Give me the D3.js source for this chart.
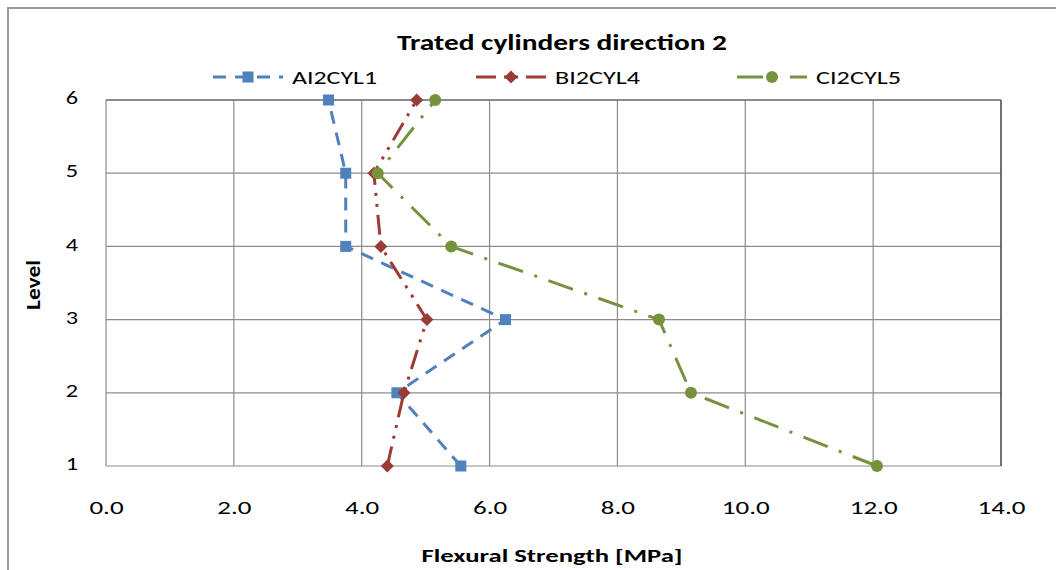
<!DOCTYPE html>
<html><head><meta charset="utf-8">
<script src="https://cdn.jsdelivr.net/npm/d3@7"></script>
<style>body{margin:0;background:#fff}svg{display:block}text{font-family:Carlito,Calibri,Lato,sans-serif;fill:#000}</style>
</head><body>
<svg id="c" width="1056" height="570"></svg>
<script>
const levels = [1, 2, 3, 4, 5, 6];
const seriesNames = ["AI2CYL1", "BI2CYL4", "CI2CYL5"];
const ai2cyl1 = [5.55, 4.55, 6.25, 3.75, 3.75, 3.48];
const bi2cyl4 = [4.40, 4.66, 5.02, 4.30, 4.19, 4.86];
const ci2cyl5 = [12.06, 9.15, 8.65, 5.40, 4.25, 5.15];
const xTicks = [0, 2, 4, 6, 8, 10, 12, 14];
const yTicks = [1, 2, 3, 4, 5, 6];
const title = "Trated cylinders direction 2";
const xTitle = "Flexural Strength [MPa]";
const yTitle = "Level";

const styles = [
  {color: "#4F81BD", dash: "13,9", marker: "square"},
  {color: "#9B3B36", dash: "20,8,3,8,3,8", marker: "diamond"},
  {color: "#76923C", dash: "26,12,3,12", marker: "circle"}
];
const seriesVals = [ai2cyl1, bi2cyl4, ci2cyl5];

const svg = d3.select("#c");
const L = 106, R = 1001, T = 100, B = 466;
const x = d3.scaleLinear().domain([0, 14]).range([L, R]);
const y = d3.scaleLinear().domain([1, 6]).range([B, T]);

// horizontal stretch helpers (reference text is wide)
function stretchK(sel, k) {
  sel.each(function() {
    const w = this.getComputedTextLength();
    d3.select(this).attr("textLength", w * k).attr("lengthAdjust", "spacingAndGlyphs");
  });
}
function stretchTo(sel, target) {
  sel.attr("textLength", target).attr("lengthAdjust", "spacingAndGlyphs");
}

// outer border
svg.append("rect").attr("x", 8).attr("y", 8).attr("width", 1060).attr("height", 600)
  .attr("fill", "none").attr("stroke", "#9a9a9a").attr("stroke-width", 2);

// gridlines
svg.append("g").selectAll("line").data(xTicks).join("line")
  .attr("x1", d => x(d)).attr("x2", d => x(d)).attr("y1", T).attr("y2", B)
  .attr("stroke", "#8c8c8c").attr("stroke-width", 1.2);
svg.append("g").selectAll("line").data(yTicks).join("line")
  .attr("y1", d => y(d)).attr("y2", d => y(d)).attr("x1", L).attr("x2", R)
  .attr("stroke", "#8c8c8c").attr("stroke-width", 1.2);
svg.append("line").attr("x1", R).attr("x2", R).attr("y1", T).attr("y2", B).attr("stroke", "#444").attr("stroke-width", 1.2);
svg.append("line").attr("x1", L).attr("x2", R).attr("y1", T).attr("y2", T).attr("stroke", "#555").attr("stroke-width", 1.2);

// axes (labels only)
const xAxis = svg.append("g").attr("transform", `translate(0,${B})`)
  .call(d3.axisBottom(x).tickValues(xTicks).tickFormat(d3.format(".1f")).tickSize(0).tickPadding(35));
xAxis.select(".domain").remove();
xAxis.selectAll("text").attr("font-size", 18).attr("fill", "#000").style("font-family", "Carlito,Calibri,Lato,sans-serif");
stretchK(xAxis.selectAll("text"), 1.5);
const yAxis = svg.append("g").attr("transform", `translate(${L},0)`)
  .call(d3.axisLeft(y).tickValues(yTicks).tickFormat(d3.format("d")).tickSize(0).tickPadding(28));
yAxis.select(".domain").remove();
yAxis.selectAll("text").attr("font-size", 18).attr("fill", "#000").attr("dy", "0.2em").style("font-family", "Carlito,Calibri,Lato,sans-serif");
stretchK(yAxis.selectAll("text"), 1.35);

// titles
svg.append("text").attr("x", 562).attr("y", 50).attr("text-anchor", "middle")
  .attr("font-size", 23).attr("font-weight", "bold").text(title).call(stretchTo, 330);
svg.append("text").attr("x", 552).attr("y", 562).attr("text-anchor", "middle")
  .attr("font-size", 19).attr("font-weight", "bold").text(xTitle).call(stretchTo, 261);
svg.append("text").attr("transform", "translate(40,285) rotate(-90)").attr("text-anchor", "middle")
  .attr("font-size", 20).attr("font-weight", "bold").text(yTitle).call(stretchTo, 50);

function drawMarker(g, type, cx, cy, color) {
  if (type === "square") {
    g.append("rect").attr("x", cx - 5.5).attr("y", cy - 5.5).attr("width", 11).attr("height", 11).attr("fill", color);
  } else if (type === "diamond") {
    g.append("path").attr("d", `M${cx},${cy-6.5}L${cx+6.5},${cy}L${cx},${cy+6.5}L${cx-6.5},${cy}Z`).attr("fill", color);
  } else {
    g.append("circle").attr("cx", cx).attr("cy", cy).attr("r", 6).attr("fill", color);
  }
}

const line = d3.line().x(d => x(d[0])).y(d => y(d[1]));
seriesVals.forEach((vals, i) => {
  const st = styles[i];
  const pts = vals.map((v, j) => [v, levels[j]]);
  const g = svg.append("g");
  g.append("path").attr("d", line(pts)).attr("fill", "none").attr("stroke", st.color)
    .attr("stroke-width", 3).attr("stroke-dasharray", st.dash);
  pts.forEach(p => drawMarker(g, st.marker, x(p[0]), y(p[1]), st.color));
});

// legend
const legendX = [213, 476, 737];
seriesNames.forEach((name, i) => {
  const st = styles[i];
  const g = svg.append("g");
  const lx = legendX[i], ly = 77;
  g.append("line").attr("x1", lx).attr("x2", lx + 70).attr("y1", ly).attr("y2", ly)
    .attr("stroke", st.color).attr("stroke-width", 3).attr("stroke-dasharray", st.dash);
  drawMarker(g, st.marker, lx + 35, ly, st.color);
  g.append("text").attr("x", lx + 79).attr("y", ly + 7).attr("font-size", 18).text(name).call(stretchTo, 85);
});
</script>
</body></html>
